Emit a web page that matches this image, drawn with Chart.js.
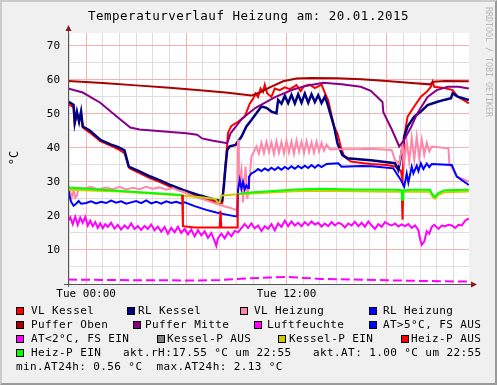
<!DOCTYPE html>
<html>
<head>
<meta charset="utf-8">
<script src="https://cdn.jsdelivr.net/npm/chart.js@4.4.1/dist/chart.umd.min.js"></script>
<style>
    html, body { margin: 0; padding: 0; background: #f0f0f0; }
    #wrap { position: relative; width: 497px; height: 385px; background: #f0f0f0; overflow: hidden; font-family: "DejaVu Sans Mono", monospace; color: #000; }
    #frame { position: absolute; left: 0; top: 0; width: 497px; height: 385px; box-sizing: border-box; border: 2px solid; border-color: #cbcbcb #999 #999 #cbcbcb; pointer-events: none; }
    canvas { position: absolute; left: 0; top: 0; }
    .title { position: absolute; left: 0; width: 497px; top: 7px; text-align: center; font-size: 12.5px; letter-spacing: 0.5px; line-height: 18px; white-space: pre; }
    .ylab { position: absolute; left: 14px; top: 158px; transform: translate(-50%, -50%) rotate(-90deg); font-size: 12px; white-space: pre; }
    .credit { position: absolute; left: 484px; top: 7px; writing-mode: vertical-rl; font-size: 8.3px; color: #b8b8b8; white-space: pre; line-height: 9px; }
    .leg { position: absolute; font-size: 11px; letter-spacing: 0.4px; line-height: 14px; white-space: pre; }
    .box { position: absolute; width: 6px; height: 6px; border: 1px solid #000; }
</style>
</head>
<body>
<div id="wrap">
    <canvas id="chart" width="497" height="385"></canvas>
    <div class="title">Temperaturverlauf Heizung am: 20.01.2015</div>
    <div class="ylab">°C</div>
    <div class="credit">RRDTOOL / TOBI OETIKER</div>
    <div id="legend"></div>
    <div id="frame"></div>
</div>
<script>
// x = Stunden ab Tue 00:00, y = °C
const xTickLabels = { 0: "Tue 00:00", 12: "Tue 12:00" };

const vlKessel = [[-1.08,52.9],[-0.75,52.0],[-0.68,47.3],[-0.55,50.0],[-0.42,47.8],[-0.3,50.2],[-0.2,46.0],[0.2,44.6],[0.85,42.0],[1.5,40.6],[1.9,39.7],[2.3,38.5],[2.45,36.2],[2.6,34.0],[3.2,32.6],[3.85,31.1],[4.5,29.8],[5.05,28.6],[5.85,27.1],[6.85,25.5],[7.5,24.5],[8.05,23.7],[8.15,23.8],[8.25,30],[8.4,38],[8.5,44.5],[8.7,46.5],[9.1,47.7],[9.5,49.2],[9.8,53],[10.0,54.5],[10.15,56],[10.3,55],[10.45,57.5],[10.6,56.5],[10.7,58.6],[10.85,56],[11.1,55],[11.3,57.5],[11.6,57],[11.9,57.8],[12.2,57.3],[12.6,58.5],[12.85,56.7],[13.05,58.2],[13.4,58.6],[13.7,57.6],[14.1,58.6],[14.35,55.6],[14.5,54],[14.85,46.3],[15.05,44.3],[15.25,40.4],[15.45,37.5],[15.85,36.0],[16.5,35.6],[17.05,35.3],[18.0,35.0],[18.55,34.5],[18.85,33.3],[18.95,30.6],[19.05,43.3],[19.25,49.2],[19.65,52.2],[20.05,55.1],[20.4,56.5],[20.65,58.0],[20.75,59.5],[20.85,58],[21.45,57.6],[21.95,57.0],[22.25,55.1],[22.92,53.1]];

const rlKessel = [[-1.08,53.6],[-0.75,52.7],[-0.68,47.4],[-0.55,50.7],[-0.42,47.7],[-0.3,50.7],[-0.2,46.3],[0.2,45.2],[0.85,42.4],[1.5,41],[1.9,40.3],[2.3,39.3],[2.45,36.5],[2.55,34.5],[3.2,33.1],[3.85,31.6],[4.5,30.3],[5.05,29.1],[5.85,27.6],[6.85,26.0],[7.5,25.1],[8.05,24.4],[8.15,24.5],[8.25,28.6],[8.35,34.5],[8.45,39.4],[8.6,40.5],[8.95,40.9],[9.1,42],[9.3,43.3],[9.6,46.3],[9.9,48.2],[10.2,50.2],[10.5,52.2],[10.8,51.8],[11.1,50.7],[11.4,50.2],[11.5,54.1],[11.7,53.0],[11.9,55.3],[12.1,53.2],[12.3,55.6],[12.5,53.1],[12.7,55.8],[12.9,53.3],[13.1,56],[13.3,53.3],[13.5,55.8],[13.7,53.5],[13.9,55.5],[14.1,53.2],[14.3,55.1],[14.45,53],[14.85,46.3],[15.05,41.4],[15.35,37.9],[15.65,37.0],[16.5,36.6],[17.05,36.4],[18.5,35.5],[18.7,33.5],[18.85,37.5],[19.05,43.3],[19.25,46.3],[19.65,49.2],[20.05,50.7],[20.45,52.6],[21.05,53.6],[21.5,54.2],[21.85,54.6],[21.95,56.1],[22.25,55.1],[22.92,54.1]];

const vlHeizung = [[-1.08,29.5],[-0.95,27],[-0.85,25.5],[-0.75,27.5],[-0.65,25.3],[-0.55,26],[-0.45,28.3],[-0.2,28.0],[0.3,28.6],[0.7,27.8],[1.2,28.4],[1.6,27.9],[2.0,28.6],[2.4,27.8],[2.8,28.3],[3.2,27.9],[3.6,28.6],[4.0,28.0],[4.4,28.4],[4.8,27.7],[5.2,28.2],[5.6,27.4],[5.9,27.0],[6.5,25.6],[7.2,24.6],[7.8,23.6],[8.3,22.8],[8.7,22.3],[9.05,21.6],[9.1,42.4],[9.15,28.6],[9.3,33.5],[9.4,24],[9.55,34.5],[9.65,25],[9.75,28.6],[9.9,37.5],[10.2,40.4],[10.35,38.3],[10.5,41.5],[10.65,38.5],[10.8,41.8],[10.95,38.8],[11.1,41.6],[11.25,38.2],[11.4,42.0],[11.55,38.6],[11.7,41.7],[11.85,38.4],[12.0,42.1],[12.15,38.7],[12.3,41.9],[12.45,38.3],[12.6,42.2],[12.75,38.9],[12.9,41.8],[13.05,38.5],[13.2,42.0],[13.35,38.8],[13.5,41.6],[13.65,38.6],[13.8,41.9],[13.95,39.0],[14.1,41.5],[14.25,39.2],[14.4,41.0],[14.6,39.6],[15.0,39.6],[16.5,39.7],[17.0,39.8],[18.3,39.4],[18.5,36.5],[18.75,35.3],[18.95,41],[19.05,35.5],[19.2,42],[19.35,36],[19.5,43],[19.65,36.5],[19.8,43.3],[19.95,37],[20.1,42.5],[20.25,38],[20.4,41.5],[20.55,39],[20.7,40.4],[21.7,39.9],[21.75,35.6],[22.2,31.6],[22.92,30.1]];

const rlHeizung = [[-1.08,28.6],[-1.0,26],[-0.9,24.2],[-0.75,23.0],[-0.6,23.6],[-0.45,24.4],[-0.3,23.6],[0,23.8],[0.3,24.3],[0.6,23.7],[0.9,24.2],[1.2,23.8],[1.5,24.5],[1.8,23.9],[2.1,24.3],[2.4,23.6],[2.7,24.0],[3.0,24.4],[3.3,23.8],[3.6,24.6],[3.9,23.7],[4.2,24.2],[4.5,23.6],[4.8,24.3],[5.1,23.8],[5.4,24.2],[5.7,23.7],[5.9,24.0],[6.5,22.9],[7.2,21.8],[7.8,21.0],[8.4,20.4],[9.05,19.8],[9.1,27.6],[9.2,30.6],[9.3,28.0],[9.4,30.0],[9.5,27.8],[9.6,29.0],[9.7,28.2],[9.75,31.5],[9.9,32.5],[10.1,33.0],[10.3,33.8],[10.5,33.2],[10.7,34.0],[10.9,33.4],[11.1,34.2],[11.3,33.5],[11.5,34.3],[11.7,33.6],[11.9,34.4],[12.1,33.8],[12.3,34.6],[12.5,33.9],[12.7,34.7],[12.9,34.0],[13.1,34.8],[13.3,34.1],[13.5,35.0],[13.7,34.2],[13.9,35.0],[14.1,34.4],[14.4,35.3],[15.1,35.5],[15.3,34.5],[16.5,34.7],[17.1,34.6],[18.4,34.0],[18.85,30.6],[19.05,28.6],[19.2,32.5],[19.3,29.8],[19.5,34.5],[19.6,32.5],[19.8,34.8],[19.9,33.2],[20.05,35.5],[20.2,33.8],[20.4,35.4],[20.55,34.4],[20.7,35.3],[21.9,35.0],[22.2,31.6],[22.92,29.1]];

const pufferOben = [[-1.08,59.7],[1,59.1],[3,58.4],[5,57.7],[7,56.9],[8.5,56.2],[9.9,55.4],[10.4,56.3],[11,57.8],[11.8,59.6],[12.6,60.4],[13.5,60.6],[15,60.5],[16.5,60.2],[18,59.7],[19.5,59.1],[20.6,58.7],[20.8,59.5],[21.5,59.7],[22.92,59.6]];

const pufferMitte = [[-1.08,57.5],[-0.2,56.3],[0.85,53.3],[1.85,49.2],[2.65,46.0],[3.2,45.4],[4.5,44.9],[6.0,44.3],[6.65,43.9],[6.95,42.8],[7.6,42.1],[8.3,41.5],[8.45,41.4],[8.65,44.3],[9.35,48.7],[10.15,51.8],[11.35,55.0],[12.4,57.2],[13.15,58.2],[14.2,59.2],[15.3,58.7],[16.45,58.0],[17.05,56.8],[17.75,53.5],[17.8,50.5],[18.3,45.5],[18.65,41.6],[18.75,40.4],[19.05,42.4],[19.45,46],[19.85,50.3],[20.45,55.0],[21.0,57],[21.65,58.0],[22.3,58],[22.92,57.5]];

const luftfeuchte = [[-1.08,18.5],[-0.95,19.6],[-0.8,17.6],[-0.65,19.8],[-0.5,17.4],[-0.35,19.5],[-0.2,18.0],[-0.05,19.7],[0.1,17.2],[0.25,18.6],[0.4,17.0],[0.55,18.2],[0.7,16.5],[0.85,17.8],[1.0,16.4],[1.15,17.6],[1.3,16.8],[1.5,18.0],[1.7,16.3],[1.9,17.4],[2.1,16.0],[2.3,17.2],[2.5,16.3],[2.7,17.8],[2.9,16.2],[3.1,17.0],[3.3,15.9],[3.5,17.1],[3.7,16.2],[3.9,17.5],[4.1,15.8],[4.3,16.9],[4.5,15.4],[4.7,16.8],[4.9,14.8],[5.1,16.5],[5.3,15.2],[5.5,16.8],[5.7,15.0],[5.9,16.2],[6.1,14.6],[6.3,16.0],[6.5,14.0],[6.7,15.8],[6.9,14.3],[7.1,15.5],[7.3,13.6],[7.5,15.0],[7.7,12.5],[7.8,11.2],[7.9,13.5],[8.1,14.8],[8.3,13.4],[8.5,15.2],[8.7,14.0],[8.9,15.6],[9.1,15.2],[9.3,16.4],[9.5,17.6],[9.7,16.5],[9.9,17.8],[10.1,16.4],[10.3,17.2],[10.5,15.6],[10.7,17.0],[10.9,16.2],[11.1,17.6],[11.3,15.8],[11.5,17.8],[11.7,16.8],[11.9,18.6],[12.1,17.0],[12.3,18.4],[12.5,17.2],[12.7,18.0],[12.9,17.0],[13.1,18.2],[13.3,17.3],[13.5,18.4],[13.7,17.5],[13.9,18.0],[14.1,16.9],[14.3,17.8],[14.5,17.0],[14.7,18.2],[14.9,17.2],[15.1,18.0],[15.3,17.6],[15.5,16.6],[15.7,17.8],[15.9,17.2],[16.1,18.3],[16.3,17.0],[16.5,18.0],[16.7,16.8],[16.9,18.4],[17.1,17.2],[17.3,16.2],[17.5,17.6],[17.7,16.8],[17.9,18.2],[18.1,17.6],[18.3,17.2],[18.5,17.8],[18.7,16.9],[18.9,17.5],[19.1,17.0],[19.3,17.6],[19.5,16.5],[19.7,17.2],[19.9,15.8],[20.0,13.2],[20.1,11.5],[20.25,12.5],[20.4,15.5],[20.55,14.8],[20.7,16.8],[20.85,17.4],[21.1,16.2],[21.3,17.2],[21.5,17.0],[21.7,17.4],[21.9,17.2],[22.1,16.5],[22.3,17.4],[22.5,17.2],[22.7,18.6],[22.92,19.3]];

const atWarm = [];   // AT>5°C, FS AUS: keine Werte
const atKalt = [[-1.08,1.3],[1,1.2],[3,1.1],[5,1.1],[6.5,1.0],[8,1.2],[9.5,1.6],[11,1.9],[12,2.1],[13,1.8],[14,1.5],[16,1.3],[18,1.1],[20,0.9],[22.92,0.7]];

const kesselPAus = [];
const kesselPEin = [[-1.08,27.7],[2,27.2],[5.75,26.0],[7,25.4],[7.75,25.0],[7.9,23.8],[8.0,24.1],[8.1,26.0],[8.5,26.2],[9.1,26.4],[11,26.9],[12.5,27.3],[14,27.4],[16,27.3],[18.5,27.1],[19.05,27.1],[20.6,27.1],[20.75,25.6],[20.9,25.1],[21.1,26.2],[21.5,27.0],[22.92,27.2]];

const heizPAus = [[5.75,26.2],[5.8,17.0],[6.5,16.6],[8.0,16.6],[8.05,21.5],[8.1,16.6],[9.05,16.6],[9.08,26.5],[9.1,null],[18.92,24.5],[18.93,18.9],[18.97,18.9],[18.98,24.5]];
const heizPEin = [[-1.08,28.4],[5.75,26.2],[5.8,null],[9.08,26.5],[10,27.0],[11,27.3],[12.5,27.8],[14,28.0],[16,27.8],[18.5,27.7],[18.9,27.6],[18.92,24.5],[18.98,24.5],[19.0,27.5],[19.5,27.7],[20.6,27.7],[20.75,26.2],[20.9,25.6],[21.1,26.8],[21.5,27.6],[22.92,27.7]];

const legendRows = [
    [[16, 31, "#ff0000", "VL Kessel"], [127, 138, "#000080", "RL Kessel"], [240, 254, "#ff88aa", "VL Heizung"], [369, 383, "#0000ff", "RL Heizung"]],
    [[16, 31, "#aa0000", "Puffer Oben"], [133, 145, "#880088", "Puffer Mitte"], [254, 267, "#ff00ff", "Luftfeuchte"], [369, 383, "#0000ff", "AT>5°C, FS AUS"]],
    [[16, 31, "#ff00ff", "AT<2°C, FS EIN"], [157, 167, "#808080", "Kessel-P AUS"], [278, 289, "#cccc00", "Kessel-P EIN"], [401, 411, "#ff0000", "Heiz-P AUS"]],
    [[16, 31, "#00ff00", "Heiz-P EIN"], [null, 123, null, "akt.rH:17.55 °C um 22:55"], [null, 313, null, "akt.AT: 1.00 °C um 22:55"]],
    [[null, 16, null, "min.AT24h: 0.56 °C  max.AT24h: 2.13 °C"]]
];

function renderLegend() {
    let html = "";
    legendRows.forEach((row, r) => {
        const cy = 311 + r * 14;
        row.forEach(item => {
            const [bx, tx, color, text] = item;
            if (color) {
                html += `<div class="box" style="left:${bx}px;top:${cy - 4}px;background:${color}"></div>`;
            }
            html += `<div class="leg" style="left:${tx}px;top:${cy - 7}px">${text.replace(/</g, "&lt;").replace(/>/g, "&gt;")}</div>`;
        });
    });
    document.getElementById("legend").innerHTML = html;
}

function line(label, pts, color, order, width, dash) {
    return {
        label: label,
        data: pts.map(p => ({ x: p[0], y: p[1] })),
        borderColor: color,
        backgroundColor: color,
        borderWidth: width || 2,
        borderDash: dash || [],
        pointRadius: 0,
        tension: 0,
        spanGaps: false,
        fill: false,
        order: order
    };
}

const plotBackground = {
    id: "plotBackground",
    beforeDraw(chart) {
        const a = chart.chartArea;
        chart.ctx.save();
        chart.ctx.fillStyle = "#ffffff";
        chart.ctx.fillRect(a.left, a.top, a.right - a.left, a.bottom - a.top);
        chart.ctx.restore();
    }
};

const axisArrows = {
    id: "axisArrows",
    afterDraw(chart) {
        const ctx = chart.ctx;
        const a = chart.chartArea;
        const lx = Math.round(a.left) + 0.5;
        const by = Math.round(a.bottom) + 0.5;
        ctx.save();
        ctx.strokeStyle = "#555";
        ctx.lineWidth = 1;
        ctx.beginPath();
        ctx.moveTo(lx, a.top - 3); ctx.lineTo(lx, a.bottom + 3);
        ctx.moveTo(a.left - 4, by); ctx.lineTo(a.right + 3, by);
        ctx.stroke();
        ctx.fillStyle = "#8b1a1a";
        ctx.beginPath();
        ctx.moveTo(lx - 3, a.top - 2); ctx.lineTo(lx + 3, a.top - 2); ctx.lineTo(lx, a.top - 8);
        ctx.closePath(); ctx.fill();
        ctx.beginPath();
        ctx.moveTo(a.right + 2, by - 3); ctx.lineTo(a.right + 2, by + 3); ctx.lineTo(a.right + 8, by);
        ctx.closePath(); ctx.fill();
        ctx.restore();
    }
};

function renderChart() {
    const ctx = document.getElementById("chart");
    new Chart(ctx, {
        type: "line",
        data: {
            datasets: [
                line("VL Kessel", vlKessel, "#ff0000", 10),
                line("RL Kessel", rlKessel, "#000080", 9, 2.5),
                line("VL Heizung", vlHeizung, "#ff88aa", 8),
                line("RL Heizung", rlHeizung, "#0000ff", 7),
                line("Puffer Oben", pufferOben, "#aa0000", 6),
                line("Puffer Mitte", pufferMitte, "#880088", 5),
                line("Luftfeuchte", luftfeuchte, "#ff00ff", 4),
                line("AT>5°C, FS AUS", atWarm, "#0000ff", 3),
                line("AT<2°C, FS EIN", atKalt, "#ff00ff", 3, 2, [9, 4]),
                line("Kessel-P AUS", kesselPAus, "#808080", 2),
                line("Kessel-P EIN", kesselPEin, "#cccc00", 2),
                line("Heiz-P AUS", heizPAus, "#ff0000", 1),
                line("Heiz-P EIN", heizPEin, "#00ff00", 1)
            ]
        },
        options: {
            responsive: false,
            animation: false,
            devicePixelRatio: 1,
            layout: { padding: { left: 0, top: 33, right: 28, bottom: 81 } },
            plugins: {
                legend: { display: false },
                tooltip: { enabled: false },
                title: { display: false }
            },
            scales: {
                x: {
                    type: "linear",
                    min: -1.083,
                    max: 22.93,
                    afterFit: s => { s.height = 20; },
                    afterBuildTicks: s => {
                        const t = [];
                        for (let h = -1; h <= 22; h++) t.push({ value: h });
                        s.ticks = t;
                    },
                    ticks: {
                        autoSkip: false,
                        maxRotation: 0,
                        padding: 4,
                        color: "#000",
                        font: { family: "DejaVu Sans Mono", size: 11 },
                        callback: v => xTickLabels[v] || ""
                    },
                    grid: {
                        drawTicks: false,
                        color: c => (c.tick && c.tick.value % 6 === 0) ? "#f3b3b3" : "#dedede"
                    },
                    border: { color: "#555" }
                },
                y: {
                    min: 0,
                    max: 73.8,
                    afterFit: s => { s.width = 68; },
                    afterBuildTicks: s => {
                        const t = [];
                        for (let v = 0; v <= 70; v += 5) t.push({ value: v });
                        s.ticks = t;
                    },
                    ticks: {
                        padding: 8,
                        color: "#000",
                        font: { family: "DejaVu Sans Mono", size: 11 },
                        callback: v => (v % 10 === 0 && v > 0) ? String(v) : ""
                    },
                    grid: {
                        drawTicks: false,
                        color: c => (c.tick && c.tick.value % 10 === 0) ? "#f3b3b3" : "#dedede"
                    },
                    border: { color: "#555" }
                }
            }
        },
        plugins: [plotBackground, axisArrows]
    });
}

renderLegend();
renderChart();
</script>
</body>
</html>
